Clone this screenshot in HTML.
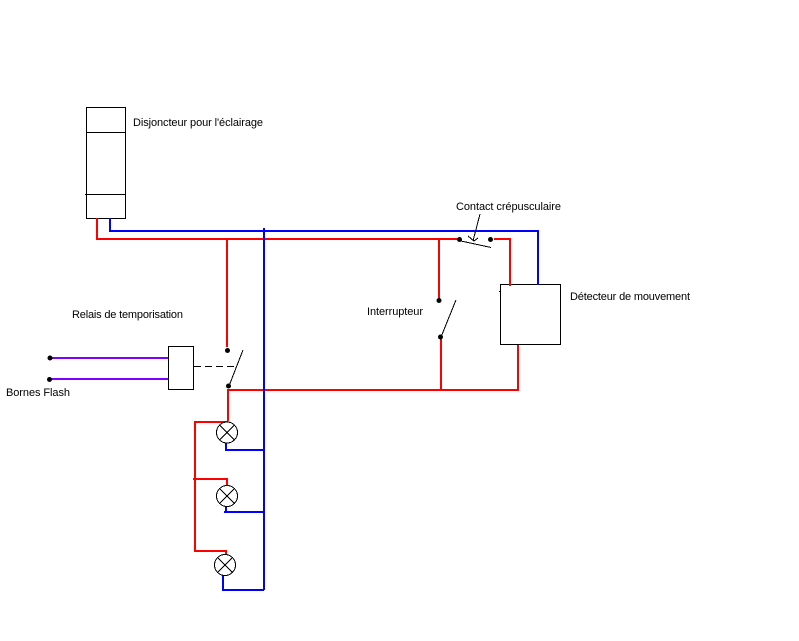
<!DOCTYPE html>
<html lang="fr">
<head>
<meta charset="utf-8">
<title>Schéma</title>
<style>
html,body{margin:0;padding:0;background:#fff}
svg{display:block}
text{font-family:"Liberation Sans",sans-serif;font-size:11px;fill:#000}
</style>
</head>
<body>
<svg width="799" height="641" viewBox="0 0 799 641" xmlns="http://www.w3.org/2000/svg">
<!-- black boxes -->
<g fill="none" stroke="#000" stroke-width="1" shape-rendering="crispEdges">
<rect x="86.5" y="107.5" width="39" height="111"/>
<path d="M86 132.5H125M85 194.5H125"/>
<rect x="168.5" y="346.5" width="25" height="43"/>
<rect x="500.5" y="284.5" width="60" height="60"/>
<path d="M499 291.500H501"/>
</g>
<!-- purple -->
<g fill="none" stroke="#8000ff" stroke-width="2" shape-rendering="crispEdges">
<path d="M50 358H168M50 379H168"/>
</g>
<!-- red -->
<g fill="none" stroke="#ff0000" stroke-width="2" shape-rendering="crispEdges">
<path d="M97 218V239H458"/>
<path d="M227 239V347"/>
<path d="M439 239V298"/>
<path d="M494 239H510V286"/>
<path d="M441 338V390"/>
<path d="M227 390H518V345"/>
<path d="M228 390V421"/>
<path d="M194 422H228M195 422V550M193 479H227V486M194 551H226V556"/>
</g>
<!-- blue -->
<g fill="none" stroke="#0000ff" stroke-width="2" shape-rendering="crispEdges">
<path d="M110 218V231H538V285"/>
<path d="M264 228V590"/>
<path d="M226 442V450H264"/>
<path d="M226 506V512H264M224 512H226"/>
<path d="M223 574V590H264"/>
</g>
<!-- lamps -->
<g fill="#fff" stroke="#000" stroke-width="1" shape-rendering="crispEdges">
<circle cx="227" cy="432.500" r="10.500"/>
<path d="M219.500 425L234.500 440M234.500 425L219.500 440"/>
<circle cx="227" cy="496" r="10.500"/>
<path d="M219.500 488.500L234.500 503.500M234.500 488.500L219.500 503.500"/>
<circle cx="225" cy="565" r="10.500"/>
<path d="M217.500 557.500L232.500 572.500M232.500 557.500L217.500 572.500"/>
</g>
<!-- switches -->
<g fill="none" stroke="#000" stroke-width="1" shape-rendering="crispEdges">
<path d="M243 350L229 386"/>
<path d="M456 300L441 337"/>
<path d="M461 241L491 247.500"/>
<path d="M480 214L473 241M468 236L474 241L478 238"/>
<path stroke-dasharray="7 4" d="M194 366.500H234"/>
</g>
<!-- dots -->
<g fill="#000">
<circle cx="50" cy="358" r="2.500"/>
<circle cx="49.500" cy="379.500" r="2.500"/>
<circle cx="227.500" cy="350.500" r="2.500"/>
<circle cx="228.500" cy="386" r="2.500"/>
<circle cx="439" cy="300.500" r="2.500"/>
<circle cx="440.500" cy="337" r="2.500"/>
<circle cx="459.500" cy="239.500" r="2.500"/>
<circle cx="490.500" cy="239.500" r="2.500"/>
</g>
<!-- labels -->
<text x="133" y="126" textLength="130">Disjoncteur pour l'éclairage</text>
<text x="456" y="210" textLength="105">Contact crépusculaire</text>
<text x="570" y="300" textLength="120">Détecteur de mouvement</text>
<text x="72" y="318" textLength="111">Relais de temporisation</text>
<text x="367" y="315" textLength="56">Interrupteur</text>
<text x="6" y="396" textLength="64">Bornes Flash</text>
</svg>
</body>
</html>
